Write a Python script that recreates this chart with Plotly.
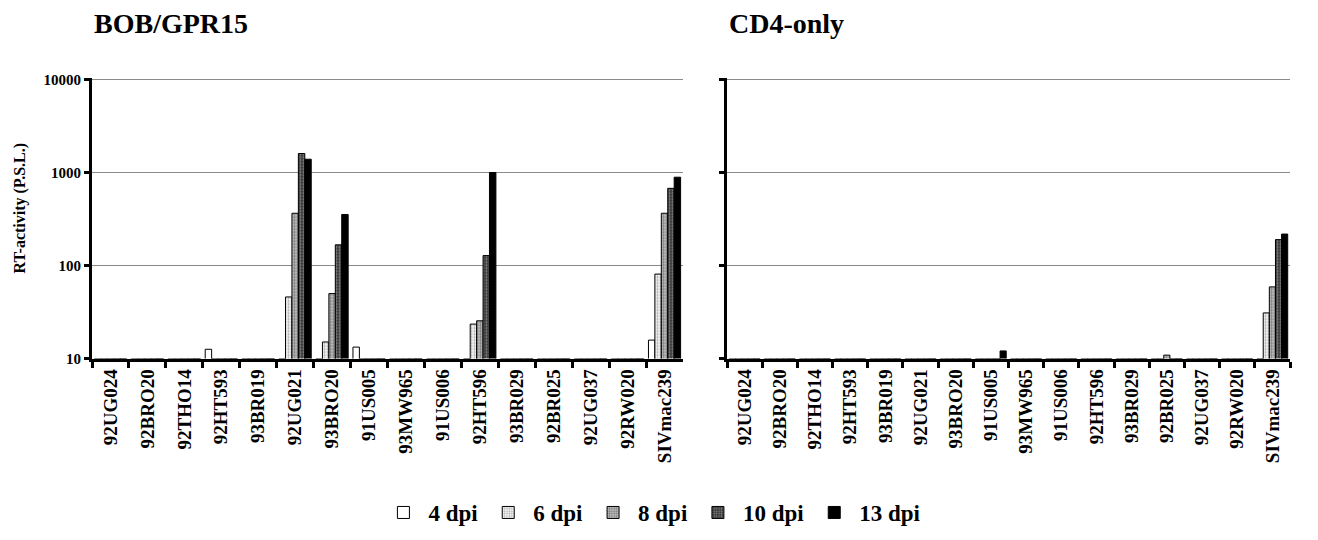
import plotly.graph_objects as go

categories = ["92UG024", "92BRO20", "92THO14", "92HT593", "93BR019", "92UG021",
              "93BRO20", "91US005", "93MW965", "91US006", "92HT596", "93BR029",
              "92BR025", "92UG037", "92RW020", "SIVmac239"]
series_names = ["4 dpi", "6 dpi", "8 dpi", "10 dpi", "13 dpi"]

# BOB/GPR15 panel (RT-activity, P.S.L.)
bob_4dpi = [10, 10, 10, 12.6, 10, 10, 10, 13.3, 10, 10, 10, 10, 10, 10, 10, 15.8]
bob_6dpi = [10, 10, 10, 10, 10, 46, 15.1, 10, 10, 10, 23.5, 10, 10, 10, 10, 81]
bob_8dpi = [10, 10, 10, 10, 10, 365, 50, 10, 10, 10, 25.5, 10, 10, 10, 10, 365]
bob_10dpi = [10, 10, 10, 10, 10, 1600, 167, 10, 10, 10, 128, 10, 10, 10, 10, 676]
bob_13dpi = [10, 10, 10, 10, 10, 1390, 354, 10, 10, 10, 1000, 10, 10, 10, 10, 890]

# CD4-only panel
cd4_4dpi = [10, 10, 10, 10, 10, 10, 10, 10, 10, 10, 10, 10, 10, 10, 10, 10]
cd4_6dpi = [10, 10, 10, 10, 10, 10, 10, 10, 10, 10, 10, 10, 10, 10, 10, 31]
cd4_8dpi = [10, 10, 10, 10, 10, 10, 10, 10, 10, 10, 10, 10, 10.9, 10, 10, 59]
cd4_10dpi = [10, 10, 10, 10, 10, 10, 10, 10, 10, 10, 10, 10, 10, 10, 10, 190]
cd4_13dpi = [10, 10, 10, 10, 10, 10, 10, 12.1, 10, 10, 10, 10, 10, 10, 10, 218]

y_tick_vals = [10, 100, 1000, 10000]
y_tick_text = ["10", "100", "1000", "10000"]

bob = [bob_4dpi, bob_6dpi, bob_8dpi, bob_10dpi, bob_13dpi]
cd4 = [cd4_4dpi, cd4_6dpi, cd4_8dpi, cd4_10dpi, cd4_13dpi]

FONT = "Liberation Serif"
W, H = 1318, 540

styles = [
    dict(color="white", pattern=None),
    dict(color="#e4e4e4", pattern=dict(shape=".", fgcolor="#555555", bgcolor="#f2f2f2", size=3, solidity=0.3)),
    dict(color="#a0a0a0", pattern=dict(shape=".", fgcolor="#333333", bgcolor="#c8c8c8", size=3, solidity=0.5)),
    dict(color="#505050", pattern=dict(shape=".", fgcolor="#d8d8d8", bgcolor="#3a3a3a", size=3, solidity=0.3)),
    dict(color="black", pattern=None),
]

fig = go.Figure()
for panel, (data, xa, ya) in enumerate([(bob, "x", "y"), (cd4, "x2", "y2")]):
    for i, name in enumerate(series_names):
        marker = dict(color=styles[i]["color"], line=dict(color="black", width=1))
        if styles[i]["pattern"] is not None:
            marker["pattern"] = styles[i]["pattern"]
        fig.add_trace(go.Bar(
            x=categories, y=data[i], name=name, marker=marker,
            xaxis=xa, yaxis=ya, legendgroup=name, showlegend=(panel == 0),
        ))

def px_x(p):
    return p / W

def px_y(p):
    return 1 - p / H

# 10000 gridline sits ~2px inside the top of the plot area so it is drawn
ydom = [px_y(362), px_y(73.5)]
common_x = dict(
    type="category", showline=True, linecolor="black", linewidth=3,
    ticks="outside", tickson="boundaries", ticklen=6, tickwidth=2.5, tickcolor="black",
    tickangle=-90, tickfont=dict(family=FONT, size=19, color="black", weight="bold"),
    showgrid=False, fixedrange=True,
)
common_y = dict(
    type="log", range=[1, 4.02], showline=True, linecolor="black", linewidth=3,
    ticks="outside", ticklen=5, tickwidth=3, tickcolor="black",
    tickvals=y_tick_vals, ticktext=y_tick_text,
    showgrid=True, gridcolor="#8a8a8a", gridwidth=1, zeroline=False,
    tickfont=dict(family=FONT, size=15, color="black", weight="bold"),
    domain=ydom, fixedrange=True,
)

fig.update_layout(
    width=W, height=H,
    margin=dict(l=0, r=0, t=0, b=0),
    paper_bgcolor="white", plot_bgcolor="white",
    barmode="group", bargap=0.13, bargroupgap=0,
    xaxis=dict(common_x, domain=[px_x(92), px_x(683)], anchor="y"),
    xaxis2=dict(common_x, domain=[px_x(727), px_x(1290)], anchor="y2"),
    yaxis=dict(common_y, anchor="x"),
    yaxis2=dict(common_y, anchor="x2", showticklabels=False),
    legend=dict(
        orientation="h", x=0.495, xanchor="center", y=px_y(520), yanchor="middle",
        font=dict(family=FONT, size=23, color="black", weight="bold"),
        itemwidth=40, entrywidth=0, bgcolor="rgba(0,0,0,0)",
    ),
    annotations=[
        dict(text="BOB/GPR15", x=px_x(92), y=px_y(18), xref="paper", yref="paper",
             xanchor="left", yanchor="middle", showarrow=False,
             font=dict(family=FONT, size=28, color="black", weight="bold")),
        dict(text="CD4-only", x=px_x(727), y=px_y(18), xref="paper", yref="paper",
             xanchor="left", yanchor="middle", showarrow=False,
             font=dict(family=FONT, size=28, color="black", weight="bold")),
        dict(text="RT-activity (P.S.L.)", x=px_x(20), y=px_y(208), xref="paper", yref="paper",
             xanchor="center", yanchor="middle", showarrow=False, textangle=-90,
             font=dict(family=FONT, size=16, color="black", weight="bold")),
    ],
)

fig.write_html("out.html", config={"displayModeBar": False},
               post_script="document.body.style.margin='0';document.body.style.overflow='hidden';")
